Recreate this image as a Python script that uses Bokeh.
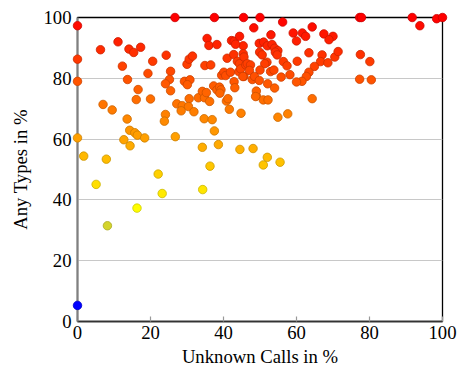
from bokeh.plotting import figure
from bokeh.models import FixedTicker, ColumnDataSource, Range1d
from bokeh.embed import file_html
from bokeh.resources import INLINE

unknown_calls = [
    26.7, 37.5, 45.5, 50.0, 77.3, 77.8, 91.7, 98.4, 100.0,
    0.0, 48.3, 56.2, 93.8, 64.3,
    6.3, 11.1, 14.1, 15.4, 17.3, 0.0, 12.3, 20.6, 24.3, 0.0, 13.7, 19.3, 16.6,
    25.5, 25.2, 24.1, 25.5, 16.1, 20.0,
    29.3, 30.8, 30.1, 30.0, 30.6, 31.5,
    27.2, 28.7, 30.6, 30.4, 31.9, 28.4, 24.1, 23.8,
    33.1, 34.2, 34.8, 35.3, 36.2,
    34.7, 36.9, 37.5, 37.3, 38.2, 38.9, 39.3, 39.0, 40.8, 41.2, 41.6, 44.8,
    34.9, 36.5, 35.5, 36.0, 38.2, 41.0, 39.5, 40.1, 40.6,
    41.9, 44.2, 45.6, 42.9, 43.1, 42.8, 43.8, 44.4, 44.7, 42.2, 42.9, 44.4,
    45.4, 45.4, 43.3, 45.6, 46.1, 46.5, 47.4, 47.1, 45.3, 47.9, 48.5, 49.0,
    49.0, 49.8, 49.8, 49.9,
    53.0, 51.0, 52.0, 53.3, 54.0, 54.9, 59.1, 60.0, 61.6, 62.5, 67.5, 70.0, 68.9,
    50.6, 51.9, 51.3, 54.2, 54.7, 56.4, 57.4, 60.2, 63.4, 67.0, 66.6, 68.6,
    70.5, 71.4, 64.9, 63.4, 62.7, 61.5, 60.0, 58.2, 55.8, 50.0, 52.9, 53.8,
    52.1, 54.0, 48.8, 50.9, 52.2, 64.3, 54.9, 57.6,
    77.5, 80.1, 77.3, 80.5,
    0.0, 7.0, 9.5, 13.6, 14.3, 15.7, 16.4, 18.4, 12.7, 14.4, 26.8, 1.7, 7.9,
    34.2, 38.6, 44.5, 48.1, 36.3, 50.9, 52.0, 55.5, 22.1, 5.1, 23.2, 34.3,
    16.3, 8.2, 0.0,
]

any_types = [
    100.0, 100.0, 100.0, 100.0, 100.0, 100.0, 100.0, 99.6, 100.0,
    97.3, 96.6, 98.5, 97.3, 96.9,
    89.4, 92.0, 89.6, 88.5, 90.2, 86.3, 84.0, 85.6, 87.6, 79.0, 79.6, 81.6, 76.3,
    82.3, 79.6, 78.2, 75.9, 73.0, 73.2,
    79.0, 79.5, 77.9, 84.6, 86.3, 87.3,
    71.6, 71.0, 73.3, 70.7, 69.0, 69.3, 68.1, 65.9,
    73.6, 75.7, 73.6, 75.3, 72.4,
    66.7, 66.4, 62.7, 77.5, 76.2, 77.1, 76.2, 75.1, 72.5, 73.3, 69.8, 68.5,
    84.2, 84.4, 93.1, 90.8, 91.1, 86.6, 81.0, 82.0, 80.9,
    82.0, 82.2, 80.6, 78.9, 76.9, 87.8, 85.6, 84.8, 83.1, 92.4, 92.2, 93.8,
    90.7, 88.1, 91.2, 87.0, 84.4, 84.8, 84.4, 82.6, 80.6, 79.6, 80.6, 74.2,
    75.8, 79.3, 91.5, 88.6,
    94.3, 91.9, 90.7, 91.1, 89.9, 89.1, 94.9, 92.3, 94.9, 93.8, 94.6, 93.8, 92.7,
    87.7, 85.3, 84.8, 88.6, 87.7, 85.5, 84.1, 85.6, 88.4, 87.7, 85.5, 85.1,
    87.0, 88.8, 83.9, 82.0, 80.6, 79.0, 78.8, 81.2, 80.4, 82.7, 82.2, 82.7,
    78.2, 76.8, 74.0, 72.9, 72.9, 73.3, 67.2, 68.3,
    87.8, 85.5, 79.7, 79.5,
    60.4, 71.4, 69.6, 66.6, 62.9, 62.1, 61.3, 60.4, 59.8, 57.8, 60.8, 54.4, 53.4,
    57.3, 58.2, 56.6, 56.9, 51.1, 51.5, 54.0, 52.4, 48.5, 45.1, 42.1, 43.4,
    37.3, 31.5, 5.3,
]

ticks = [0, 20, 40, 60, 80, 100]
grid_ticks = [20, 40, 60, 80]

# pgfplots "hot" colormap: blue, yellow, orange, red
stops = [(0, 0, 255), (255, 255, 0), (255, 128, 0), (255, 0, 0)]
lo, hi = min(any_types), max(any_types)


def cmap(v):
    t = (v - lo) / (hi - lo) * (len(stops) - 1)
    i = min(int(t), len(stops) - 2)
    f = t - i
    a, b = stops[i], stops[i + 1]
    return tuple(a[k] + (b[k] - a[k]) * f for k in range(3))


def hexc(c, s=1.0):
    return "#%02x%02x%02x" % tuple(int(round(x * s)) for x in c)


fills = [hexc(cmap(v)) for v in any_types]
lines = [hexc(cmap(v), 0.8) for v in any_types]

src = ColumnDataSource(dict(x=unknown_calls, y=any_types, fill=fills, line=lines))

p = figure(width=458, height=369, output_backend="svg", toolbar_location=None,
           x_range=Range1d(0, 100), y_range=Range1d(0, 100),
           min_border_left=77, min_border_right=16, min_border_top=17, min_border_bottom=48)

FONT = "Liberation Serif"

p.scatter("x", "y", source=src, size=8.5, fill_color="fill", line_color="line",
          line_width=0.8, level="overlay")

for ax in (p.xaxis[0], p.yaxis[0]):
    ax.ticker = FixedTicker(ticks=ticks)
    ax.major_label_text_font = FONT
    ax.major_label_text_font_size = "18.7px"
    ax.major_label_text_color = "black"
    ax.axis_label_text_font = FONT
    ax.axis_label_text_font_size = "18.7px"
    ax.axis_label_text_font_style = "normal"
    ax.axis_label_text_color = "black"
    ax.minor_tick_line_color = None
    ax.major_tick_out = 0
    ax.major_tick_in = 5
    ax.major_tick_line_color = "#999999"
    ax.major_tick_line_width = 1.2

p.xaxis.axis_label = "Unknown Calls in %"
p.yaxis.axis_label = "Any Types in %"
p.xaxis.axis_line_color = "#333333"
p.xaxis.axis_line_width = 1.5
p.yaxis.axis_line_color = "#808080"
p.yaxis.axis_line_width = 2
p.yaxis.major_tick_in = 0
p.xaxis.major_label_standoff = 4
p.yaxis.major_label_standoff = 6
p.xaxis.axis_label_standoff = 4
p.yaxis.axis_label_standoff = 9

p.xgrid.grid_line_color = None
p.ygrid.ticker = FixedTicker(ticks=grid_ticks)
p.ygrid.grid_line_color = "#c8c8c8"
p.ygrid.grid_line_width = 1

p.outline_line_color = "black"
p.outline_line_width = 1.3
p.outline_line_alpha = 1.0

open("out.html", "w").write(file_html(p, INLINE))
